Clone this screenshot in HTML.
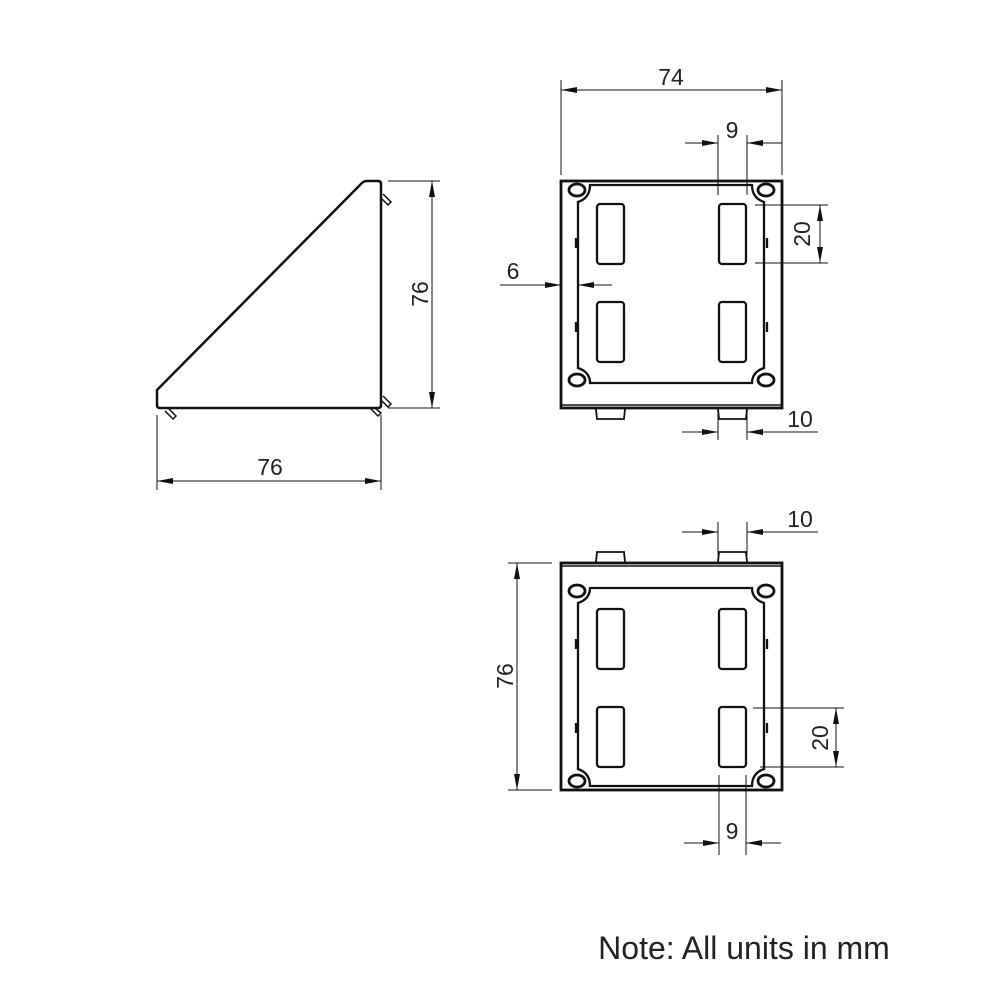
<!DOCTYPE html>
<html><head><style>body{margin:0;background:#fff}svg{display:block}text{font-family:"Liberation Sans",sans-serif;fill:#222}</style></head>
<body>
<svg width="1000" height="1000" viewBox="0 0 1000 1000" xmlns="http://www.w3.org/2000/svg">
<defs>
<marker id="a" markerWidth="16" markerHeight="8" refX="16" refY="4" orient="auto" markerUnits="userSpaceOnUse"><path d="M0,1 L16,4 L0,7 Z" fill="#111"/></marker>
<g id="sq" fill="none" stroke="#111">
  <rect x="561" y="181" width="221" height="227" stroke-width="2.8"/>
  <line x1="561" y1="405" x2="782" y2="405" stroke-width="1.5"/>
  <path d="M590,185 L752,185 Q752,198 764,202 L764,368 Q752,372 752,383 L590,383 Q590,372 578,368 L578,202 Q590,198 590,185 Z" stroke-width="2.3"/>
  <ellipse cx="577" cy="190" rx="8" ry="6" stroke-width="2.8"/>
  <ellipse cx="766" cy="190" rx="8" ry="6" stroke-width="2.8"/>
  <ellipse cx="577" cy="380" rx="8" ry="6" stroke-width="2.8"/>
  <ellipse cx="766" cy="380" rx="8" ry="6" stroke-width="2.8"/>
  <rect x="597" y="204" width="27" height="60" rx="3" stroke-width="2.3"/>
  <rect x="719" y="204" width="27" height="60" rx="3" stroke-width="2.3"/>
  <rect x="597" y="302" width="27" height="60" rx="3" stroke-width="2.3"/>
  <rect x="719" y="302" width="27" height="60" rx="3" stroke-width="2.3"/>
  <path d="M576,238 v10 M576,322 v10 M767,238 v10 M767,322 v10" stroke-width="2.3"/>
  <path d="M596,409 L597,419 L624,419 L625,409" stroke-width="1.8"/>
  <path d="M718,409 L719,419 L746,419 L747,409" stroke-width="1.8"/>
</g>
</defs>

<g fill="none" stroke="#111">
  <path d="M157,390 L362,183 Q364,181 367,181 L378,181 Q381,181 381,184 L381,405 Q381,408 378,408 L160,408 Q157,408 157,405 Z" stroke-width="2.5"/>
  <path d="M383,194 L391,202 L388,205 L381,198" stroke-width="1.5"/>
  <path d="M383,396 L391,404 L388,407 L381,400" stroke-width="1.5"/>
  <path d="M168,408 L176,416 L173,419 L165,411" stroke-width="1.5"/>
  <path d="M370,408 L378,416 L381,413 L375,408" stroke-width="1.5"/>
</g>
<g stroke="#111" stroke-width="1">
  <line x1="388" y1="181" x2="440" y2="181"/>
  <line x1="388" y1="408" x2="440" y2="408"/>
  <line x1="432" y1="295" x2="432" y2="181" marker-end="url(#a)"/>
  <line x1="432" y1="295" x2="432" y2="408" marker-end="url(#a)"/>
  <line x1="157" y1="415" x2="157" y2="490"/>
  <line x1="381" y1="415" x2="381" y2="490"/>
  <line x1="270" y1="481" x2="157" y2="481" marker-end="url(#a)"/>
  <line x1="270" y1="481" x2="381" y2="481" marker-end="url(#a)"/>
</g>
<text x="270" y="475" font-size="23" text-anchor="middle">76</text>
<text transform="translate(428,294) rotate(-90)" font-size="23" text-anchor="middle">76</text>

<use href="#sq"/>
<g stroke="#111" stroke-width="1">
  <line x1="561" y1="80" x2="561" y2="175"/>
  <line x1="782" y1="80" x2="782" y2="175"/>
  <line x1="671" y1="90" x2="561" y2="90" marker-end="url(#a)"/>
  <line x1="671" y1="90" x2="782" y2="90" marker-end="url(#a)"/>
  <line x1="718" y1="135" x2="718" y2="195"/>
  <line x1="747" y1="135" x2="747" y2="195"/>
  <line x1="685" y1="143" x2="718" y2="143" marker-end="url(#a)"/>
  <line x1="782" y1="143" x2="747" y2="143" marker-end="url(#a)"/>
  <line x1="755" y1="205" x2="828" y2="205"/>
  <line x1="755" y1="263" x2="828" y2="263"/>
  <line x1="820" y1="234" x2="820" y2="205" marker-end="url(#a)"/>
  <line x1="820" y1="234" x2="820" y2="263" marker-end="url(#a)"/>
  <line x1="500" y1="285" x2="561" y2="285" marker-end="url(#a)"/>
  <line x1="612" y1="285" x2="578" y2="285" marker-end="url(#a)"/>
  <line x1="718" y1="412" x2="718" y2="440"/>
  <line x1="747" y1="412" x2="747" y2="440"/>
  <line x1="682" y1="432" x2="718" y2="432" marker-end="url(#a)"/>
  <line x1="818" y1="432" x2="747" y2="432" marker-end="url(#a)"/>
</g>
<text x="671" y="85" font-size="23" text-anchor="middle">74</text>
<text x="732" y="138" font-size="23" text-anchor="middle">9</text>
<text transform="translate(810,234) rotate(-90)" font-size="23" text-anchor="middle">20</text>
<text x="513" y="279" font-size="23" text-anchor="middle">6</text>
<text x="800" y="427" font-size="23" text-anchor="middle">10</text>

<use href="#sq" transform="matrix(1,0,0,-1,0,971)"/>
<g stroke="#111" stroke-width="1">
  <line x1="718" y1="522" x2="718" y2="555"/>
  <line x1="747" y1="522" x2="747" y2="555"/>
  <line x1="682" y1="532" x2="718" y2="532" marker-end="url(#a)"/>
  <line x1="818" y1="532" x2="747" y2="532" marker-end="url(#a)"/>
  <line x1="508" y1="563" x2="552" y2="563"/>
  <line x1="508" y1="790" x2="552" y2="790"/>
  <line x1="517" y1="676" x2="517" y2="563" marker-end="url(#a)"/>
  <line x1="517" y1="676" x2="517" y2="790" marker-end="url(#a)"/>
  <line x1="753" y1="708" x2="844" y2="708"/>
  <line x1="760" y1="767" x2="844" y2="767"/>
  <line x1="836" y1="737" x2="836" y2="708" marker-end="url(#a)"/>
  <line x1="836" y1="737" x2="836" y2="767" marker-end="url(#a)"/>
  <line x1="719" y1="775" x2="719" y2="855"/>
  <line x1="746" y1="775" x2="746" y2="855"/>
  <line x1="684" y1="843" x2="719" y2="843" marker-end="url(#a)"/>
  <line x1="781" y1="843" x2="746" y2="843" marker-end="url(#a)"/>
</g>
<text x="800" y="527" font-size="23" text-anchor="middle">10</text>
<text transform="translate(513,676) rotate(-90)" font-size="23" text-anchor="middle">76</text>
<text transform="translate(828,738) rotate(-90)" font-size="23" text-anchor="middle">20</text>
<text x="732" y="839" font-size="23" text-anchor="middle">9</text>

<text x="744" y="959" font-size="32" text-anchor="middle">Note: All units in mm</text>
</svg>
</body></html>
